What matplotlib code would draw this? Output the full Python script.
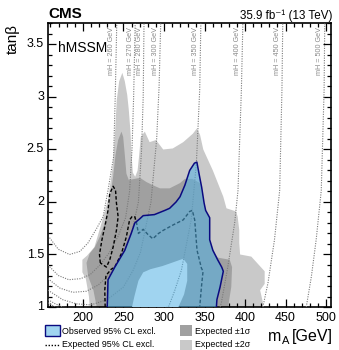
import matplotlib
matplotlib.use("Agg")
import matplotlib.pyplot as plt
from matplotlib.patches import Polygon, Rectangle
from matplotlib.lines import Line2D
from matplotlib.ticker import MultipleLocator, FixedLocator
import matplotlib.transforms as mtransforms

plt.rcParams['font.family'] = ['Liberation Sans', 'DejaVu Sans']

W, H = 339, 350

# expected +-2 sigma band outline (mA [GeV], tan beta)
band2 = [(208.5, 1.0), (207.5, 1.10), (203.6, 1.27), (199.4, 1.33), (199.4, 1.45),
         (205.3, 1.49), (214.2, 1.57), (223.1, 1.80), (231.0, 2.02), (236.9, 2.34),
         (239.9, 2.69), (241.8, 2.97), (244.8, 3.15), (248.7, 3.23), (251.7, 3.15),
         (254.7, 3.02), (256.6, 2.88), (258.6, 2.68), (260.1, 2.45), (261.6, 2.28),
         (264.5, 2.24), (267.5, 2.30), (269.5, 2.45), (271.4, 2.62), (276.4, 2.67),
         (282.3, 2.57), (290.2, 2.59), (299.1, 2.50), (310.9, 2.51), (323.8, 2.57),
         (335.6, 2.65), (340.6, 2.70), (344.5, 2.64), (348.5, 2.50), (360.3, 2.30),
         (373.2, 2.05), (377.1, 1.94), (389.0, 1.91), (390.9, 1.86), (392.9, 1.73),
         (392.9, 1.61), (393.9, 1.50), (407.7, 1.48), (424.2, 1.34), (424.2, 1.22),
         (418.6, 1.16), (422.1, 1.04), (422.1, 1.0)]

# expected +-1 sigma band outline
band1 = [(217.1, 1.0), (213.0, 1.16), (206.6, 1.29), (204.5, 1.42), (208.5, 1.51),
         (214.8, 1.57), (220.9, 1.67), (227.0, 1.80), (233.2, 2.02), (237.3, 2.24),
         (240.3, 2.45), (243.5, 2.59), (247.6, 2.67), (249.7, 2.62), (251.7, 2.45),
         (253.7, 2.27), (256.6, 2.21), (264.0, 2.22), (270.5, 2.23), (278.4, 2.19),
         (286.3, 2.16), (295.1, 2.13), (307.0, 2.13), (319.8, 2.18), (325.8, 2.22),
         (335.0, 2.22), (344.5, 2.18), (348.8, 1.98), (350.6, 1.92), (355.6, 1.85),
         (355.6, 1.64), (359.6, 1.54), (366.5, 1.47), (381.1, 1.45), (384.0, 1.38),
         (383.0, 1.19), (379.1, 1.0)]

# inside the -2 sigma contour (no band)
inner = [(260.6, 1.0), (263.5, 1.10), (268.5, 1.25), (274.4, 1.33), (283.3, 1.36),
         (298.1, 1.39), (312.9, 1.43), (323.8, 1.46), (328.7, 1.41), (328.7, 1.25),
         (324.8, 1.12), (317.9, 1.0)]

# observed exclusion contour
obs = [(230.0, 1.0), (230.5, 1.10), (231.0, 1.26), (239.4, 1.38), (251.7, 1.54),
       (259.6, 1.70), (264.0, 1.80), (270.2, 1.84), (274.4, 1.87), (288.2, 1.88),
       (301.1, 1.92), (307.0, 1.94), (314.9, 2.00), (319.8, 2.05), (325.8, 2.16),
       (331.7, 2.30), (337.6, 2.37), (340.6, 2.38), (343.5, 2.26), (346.5, 2.14),
       (349.5, 1.99), (351.4, 1.92), (356.4, 1.85), (356.4, 1.64), (360.3, 1.54),
       (366.2, 1.45), (371.2, 1.38), (373.2, 1.34), (369.2, 1.19), (365.3, 1.07),
       (364.7, 1.0)]

# expected exclusion contour (two pieces)
exp_main = [(227.5, 1.0), (227.0, 1.16), (228.5, 1.30), (235.0, 1.36), (239.4, 1.38),
            (247.6, 1.51), (253.7, 1.67), (257.6, 1.83), (260.6, 1.86), (264.0, 1.86),
            (266.0, 1.81), (268.5, 1.70), (274.4, 1.74), (280.3, 1.69), (286.3, 1.65),
            (293.2, 1.70), (299.1, 1.73), (310.9, 1.78), (323.8, 1.83), (331.7, 1.91),
            (335.0, 1.92), (337.9, 1.83), (339.2, 1.70), (340.8, 1.54), (346.2, 1.37),
            (348.2, 1.34), (346.2, 1.19), (344.1, 1.0)]
exp_loop = [(221.5, 1.42), (220.5, 1.50), (223.5, 1.64), (228.0, 1.80), (231.0, 1.92),
            (233.2, 2.08), (237.3, 2.15), (240.3, 2.11), (241.4, 1.99), (243.5, 1.86),
            (241.4, 1.73), (237.3, 1.57), (233.2, 1.45), (229.0, 1.38), (221.5, 1.42)]

# iso-mH lines
mh_values = [260, 270, 280, 300, 350, 400, 450, 500]
mh_ma = [
    [158.9, 169.7, 183.6, 196.4, 206.3, 217.1, 225.0, 231.0, 237.9, 239.9, 241.8],
    [156.9, 169.7, 182.6, 197.4, 209.2, 221.1, 232.9, 243.8, 252.7, 257.6, 260.6, 262.6, 264.5],
    [156.9, 171.7, 187.5, 204.3, 219.1, 233.9, 248.7, 260.6, 268.5, 272.4, 274.4, 275.4],
    [157, 175, 192, 210, 230, 250, 262, 271, 284, 291, 294, 296],
    [157, 166, 175, 240, 305.6, 313, 321.5, 333.6, 340.0, 344.1, 345.5],
    [157, 165.5, 260, 369.2, 370.8, 378.7, 387.2, 391.3, 395.5, 397.3],
    [422.0, 428.3, 436.3, 442.7, 445.5, 446.5],
    [475.5, 481.8, 487.7, 494.0, 497.5, 498.3],
]
mh_tb = [
    [1.66, 1.55, 1.50, 1.53, 1.61, 1.75, 1.86, 2.11, 2.43, 3.0, 3.7],
    [1.40, 1.30, 1.26, 1.27, 1.31, 1.40, 1.52, 1.68, 1.85, 2.1, 2.5, 3.0, 3.7],
    [1.27, 1.18, 1.14, 1.15, 1.21, 1.32, 1.50, 1.72, 2.0, 2.5, 3.0, 3.7],
    [1.16, 1.07, 1.03, 1.02, 1.07, 1.19, 1.35, 1.52, 2.0, 2.6, 3.1, 3.7],
    [1.07, 1.03, 1.0, 0.9, 1.0, 1.15, 1.35, 1.83, 2.37, 3.07, 3.7],
    [1.04, 1.0, 0.85, 1.0, 1.04, 1.38, 1.80, 2.11, 3.07, 3.7],
    [1.0, 1.23, 1.64, 2.11, 3.07, 3.7],
    [1.0, 1.29, 1.64, 2.11, 3.07, 3.7],
]

x_ticks = [200, 250, 300, 350, 400, 450, 500]
y_ticks = [1, 1.5, 2, 2.5, 3, 3.5]

light_gray = '#c9c9c9'
dark_gray = '#a0a0a0'
obs_fill = (82 / 255, 177 / 255, 228 / 255, 0.55)
obs_line = '#0a0a80'

fig = plt.figure(figsize=(W / 100, H / 100), dpi=100)
ax = fig.add_axes([48 / W, 1 - 307 / H, (331 - 48) / W, (307 - 23.5) / H])

ax.add_patch(Polygon(band2, closed=True, fc=light_gray, ec='none', zorder=1))
ax.add_patch(Polygon(band1, closed=True, fc=dark_gray, ec='none', zorder=2))
ax.add_patch(Polygon(inner, closed=True, fc='white', ec='none', zorder=3))

shift = mtransforms.ScaledTranslation(-1.5 / 100, 0, fig.dpi_scale_trans)
for m, xs, ys in zip(mh_values, mh_ma, mh_tb):
    ax.plot(xs, ys, color='#7a7a7a', lw=0.8, ls=(0, (1, 1.2)), zorder=4)
    ax.text(xs[-1], 3.665, 'mH = %d GeV' % m, rotation=90,
            ha='right', va='top', fontsize=5.2, color='#8a8a8a',
            transform=ax.transData + shift, zorder=4)

for seg in (exp_main, exp_loop):
    ax.plot([p[0] for p in seg], [p[1] for p in seg], color='black', lw=1.0,
            ls=(0, (2.5, 1.5)), zorder=5)

ax.add_patch(Polygon(obs, closed=True, fc=obs_fill, ec='none', zorder=6))
ax.plot([p[0] for p in obs], [p[1] for p in obs], color=obs_line, lw=1.1, zorder=7)

ax.set_xlim(157, 506)
ax.set_ylim(1, 3.7)
ax.xaxis.set_major_locator(FixedLocator(x_ticks))
ax.xaxis.set_minor_locator(MultipleLocator(10))
ax.yaxis.set_major_locator(FixedLocator(y_ticks))
ax.yaxis.set_minor_locator(MultipleLocator(0.1))
ax.tick_params(which='both', direction='in', top=True, right=True, width=0.9,
               labelsize=9)
ax.tick_params(which='major', length=6)
ax.tick_params(which='minor', length=3)
ax.tick_params(axis='x', pad=3.5)
ax.tick_params(axis='y', labelleft=False)
for s in ax.spines.values():
    s.set_linewidth(1.2)

# y tick labels, placed next to the left spine
ylab_trans = ax.get_yaxis_transform() + mtransforms.ScaledTranslation(
    -4 / 100, 0, fig.dpi_scale_trans)
for v in y_ticks:
    ax.text(0, v, '%g' % v, ha='right', va='center', fontsize=9,
            transform=ylab_trans, clip_on=False)

ax.text(10 / 283, 1 - 28.5 / 283.5, 'hMSSM', fontsize=10, transform=ax.transAxes)


def fxy(px, py):
    return px / W, 1 - py / H


fig.text(*fxy(48, 17.5), 'CMS', fontsize=11, weight='bold')
fig.text(*fxy(332, 19), '35.9 fb\u207b\u00b9 (13 TeV)', ha='right', fontsize=8.4)
fig.text(*fxy(6, 23.5), 'tan\u03b2', rotation=90, ha='left', va='top', fontsize=11)

# x axis title: m with subscript A, then [GeV]
renderer = fig.canvas.get_renderer()
t_unit = fig.text(*fxy(333, 341), '[GeV]', ha='right', va='baseline', fontsize=11.5)
x0 = t_unit.get_window_extent(renderer).x0
px_fig = mtransforms.blended_transform_factory(mtransforms.IdentityTransform(),
                                               fig.transFigure)
t_sub = fig.text(x0 - 3, 1 - 344.5 / H, 'A', ha='right', va='baseline', fontsize=8,
                 transform=px_fig)
x1 = t_sub.get_window_extent(renderer).x0
fig.text(x1 - 0.5, 1 - 341 / H, 'm', ha='right', va='baseline', fontsize=11.5,
         transform=px_fig)

# legend
fig.add_artist(Rectangle(fxy(45, 336), 15 / W, 11 / H, transform=fig.transFigure,
                         fc=obs_fill, ec=obs_line, lw=1))
fig.text(*fxy(62, 331), 'Observed 95% CL excl.', va='center', fontsize=6.4)
fig.add_artist(Line2D([45 / W, 60 / W], [1 - 344.5 / H] * 2, transform=fig.transFigure,
                      color='black', lw=1, ls=(0, (1, 1.2))))
fig.text(*fxy(62, 344.5), 'Expected 95% CL excl.', va='center', fontsize=6.4)
fig.add_artist(Rectangle(fxy(180, 336), 12 / W, 11 / H, transform=fig.transFigure,
                         fc=dark_gray, ec='none'))
fig.text(*fxy(195, 331), 'Expected \u00b11\u03c3', va='center', fontsize=6.4)
fig.add_artist(Rectangle(fxy(180, 350), 12 / W, 10 / H, transform=fig.transFigure,
                         fc=light_gray, ec='none'))
fig.text(*fxy(195, 344.5), 'Expected \u00b12\u03c3', va='center', fontsize=6.4)

fig.savefig('out.png', dpi=100)
